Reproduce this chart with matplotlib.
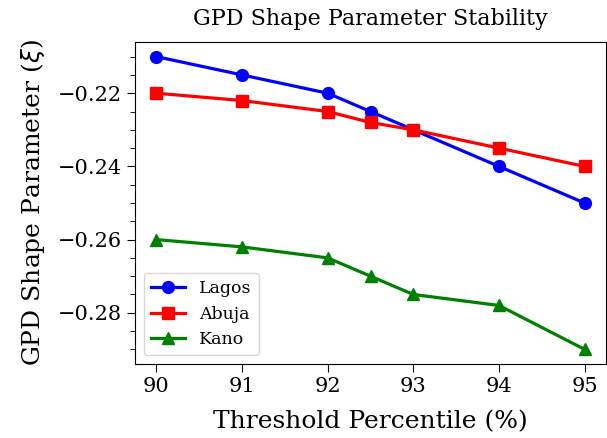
import matplotlib
matplotlib.use('Agg')
import matplotlib.pyplot as plt
from matplotlib.ticker import MultipleLocator

thresholds = [90, 91, 92, 92.5, 93, 94, 95]
lagos = [-0.210, -0.215, -0.220, -0.225, -0.230, -0.240, -0.250]
abuja = [-0.220, -0.222, -0.225, -0.228, -0.230, -0.235, -0.240]
kano = [-0.260, -0.262, -0.265, -0.270, -0.275, -0.278, -0.290]

plt.rcParams['font.family'] = 'DejaVu Serif'

fig = plt.figure(figsize=(6.07, 4.38), dpi=100)
ax = fig.add_axes([135 / 607, 74 / 438, 471 / 607, 322 / 438])
ax.plot(thresholds, lagos, 'o-', color='blue', linewidth=2.3, markersize=8.5, label='Lagos')
ax.plot(thresholds, abuja, 's-', color='red', linewidth=2.3, markersize=8.5, label='Abuja')
ax.plot(thresholds, kano, '^-', color='green', linewidth=2.3, markersize=8.5, label='Kano')

ax.set_xticks([90, 91, 92, 93, 94, 95])
ax.yaxis.set_major_locator(MultipleLocator(0.02))
ax.yaxis.set_minor_locator(MultipleLocator(0.005))
ax.tick_params(labelsize=15)
ax.tick_params(which='major', length=6)
ax.tick_params(which='minor', length=3.5)
ax.set_xlabel('Threshold Percentile (%)', fontsize=18, labelpad=10)
ax.set_ylabel(r'GPD Shape Parameter ($\xi$)', fontsize=18, labelpad=8)
ax.set_title('GPD Shape Parameter Stability', fontsize=16, pad=12)
ax.legend(loc='lower left', fontsize=12.5)

fig.savefig('out.png')
